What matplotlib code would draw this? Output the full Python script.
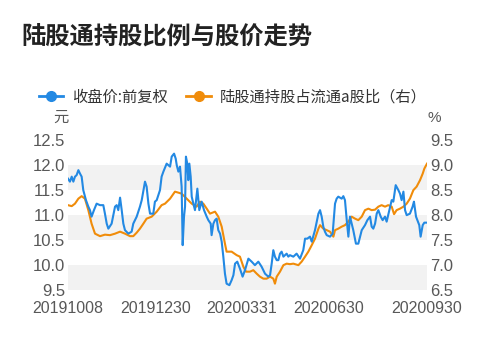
import matplotlib
matplotlib.use("Agg")
import matplotlib.pyplot as plt
from matplotlib.lines import Line2D

plt.rcParams['font.family'] = ['Noto Sans CJK SC', 'DejaVu Sans']

title = "陆股通持股比例与股价走势"
price_label = "收盘价:前复权"
ratio_label = "陆股通持股占流通a股比（右）"

tick_pos = [0, 59, 117, 176, 242]
tick_labels = ["20191008", "20191230", "20200331", "20200630", "20200930"]

# closing price (yuan), x = trading-day position
price_x = [0, 1.3, 2.5, 3.6, 4.7, 5.8, 7.0, 8.1, 9.2, 10.3, 12.1, 13.7, 14.8, 15.9,
           17.5, 19.3, 21.6, 23.8, 24.9, 26.1, 27.2, 29.4, 31.7, 32.8, 33.9, 35.1,
           36.2, 37.3, 38.4, 40.7, 42.9, 44.0, 46.3, 48.5, 49.7, 51.9, 53.0, 54.2,
           55.3, 57.5, 58.6, 59.8, 62.0, 63.1, 64.3, 66.5, 68.8, 69.9, 71.5, 72.6,
           73.3, 74.4, 75.5, 76.6, 77.3, 78.2, 78.9, 79.5, 80.4, 81.1, 81.8, 82.7,
           83.4, 84.5, 85.6, 87.2, 88.5, 90.1, 91.7, 93.5, 94.6, 96.2, 96.8, 98.0,
           99.1, 100.2, 101.3, 102.5, 103.6, 104.7, 105.8, 106.9, 108.8, 110.3,
           111.5, 112.6, 114.1, 115.9, 117.7, 119.3, 121.6, 123.8, 126.0, 128.3,
           130.5, 132.8, 135.0, 136.2, 137.3, 138.4, 139.5, 140.7, 141.8, 142.9,
           144.0, 145.2, 147.4, 148.5, 149.6, 151.9, 154.1, 156.4, 158.6, 159.8,
           161.3, 163.1, 164.3, 166.5, 168.8, 169.9, 171.0, 172.1, 173.2, 174.4,
           176.6, 178.4, 180.0, 181.1, 182.2, 184.5, 185.6, 186.7, 187.9, 189.0,
           190.1, 192.3, 194.1, 195.7, 198.0, 200.2, 201.8, 203.6, 204.7, 205.8,
           207.0, 208.1, 209.2, 210.8, 212.1, 213.7, 214.8, 216.6, 218.2, 219.3,
           220.9, 222.7, 223.8, 224.9, 226.1, 227.2, 228.3, 230.5, 232.3, 233.2,
           234.6, 235.5, 236.8, 237.7, 239.1, 240.2, 242]
price = [11.73, 11.67, 11.77, 11.67, 11.77, 11.80, 11.90, 11.83, 11.77, 11.50, 11.30,
         11.17, 11.10, 10.97, 11.10, 11.23, 11.20, 11.20, 11.03, 10.83, 10.73, 10.83,
         11.17, 11.20, 11.10, 11.35, 11.10, 10.83, 10.70, 10.63, 10.67, 10.83, 10.97,
         11.17, 11.30, 11.67, 11.57, 11.23, 11.03, 11.03, 11.27, 11.30, 11.50, 11.77,
         11.87, 12.03, 11.97, 12.17, 12.23, 12.13, 12.00, 11.87, 11.97, 11.57, 10.40,
         10.97, 11.17, 12.17, 12.03, 11.70, 12.03, 11.77, 11.37, 11.23, 11.10, 11.53,
         11.10, 11.27, 11.10, 10.97, 10.90, 10.83, 10.60, 10.83, 10.90, 10.93, 10.70,
         10.63, 10.47, 10.17, 9.83, 9.63, 9.60, 9.70, 9.80, 10.03, 10.07, 9.93, 9.77,
         9.90, 10.13, 10.07, 10.00, 10.07, 9.97, 9.83, 9.77, 9.80, 10.03, 10.30,
         10.17, 10.10, 10.10, 10.23, 10.27, 10.17, 10.23, 10.17, 10.20, 10.17, 10.23,
         10.13, 10.30, 10.53, 10.53, 10.57, 10.47, 10.70, 11.03, 11.10, 10.97, 10.77,
         10.67, 10.60, 10.57, 10.63, 11.23, 11.33, 11.37, 11.33, 11.38, 11.30, 10.90,
         10.57, 10.97, 10.70, 10.43, 10.43, 10.70, 10.80, 10.90, 10.97, 10.77, 10.73,
         10.83, 11.03, 11.10, 10.97, 10.90, 10.97, 10.87, 11.10, 11.30, 11.27, 11.60,
         11.50, 11.43, 11.30, 11.47, 11.10, 11.00, 11.03, 11.17, 11.27, 10.97, 10.90,
         10.80, 10.57, 10.80, 10.85, 10.85]

# northbound holding ratio (%), right axis
ratio_x = [0, 2.5, 4.7, 7.0, 9.2, 11.4, 13.7, 15.9, 18.2, 21.6, 24.9, 28.3, 31.7,
           35.1, 38.4, 41.8, 44.0, 46.3, 48.5, 50.8, 53.0, 56.4, 59.8, 63.1, 65.4,
           68.8, 72.1, 74.4, 76.6, 80.0, 83.4, 86.7, 89.0, 91.2, 93.5, 95.7, 99.1,
           101.3, 103.6, 105.8, 106.9, 110.3, 113.7, 115.9, 118.2, 120.0, 122.7,
           124.9, 127.2, 129.4, 131.7, 133.9, 136.2, 138.4, 139.5, 140.7, 142.9,
           145.2, 147.4, 149.6, 151.9, 155.3, 157.5, 159.8, 162.0, 164.3, 166.5,
           168.8, 169.9, 172.1, 174.4, 176.6, 178.9, 180.0, 182.2, 184.5, 186.7,
           189.0, 191.2, 193.5, 195.7, 198.0, 200.2, 202.5, 204.7, 207.0, 209.2,
           211.4, 213.7, 215.9, 218.2, 219.8, 221.5, 223.8, 226.1, 228.3, 230.5,
           232.8, 235.0, 237.3, 239.1, 240.2, 242]
ratio = [8.20, 8.18, 8.23, 8.33, 8.38, 8.33, 8.10, 7.83, 7.63, 7.58, 7.61, 7.60, 7.63,
         7.67, 7.63, 7.58, 7.58, 7.65, 7.73, 7.83, 7.93, 7.97, 8.07, 8.20, 8.23, 8.33,
         8.47, 8.45, 8.43, 8.33, 8.23, 8.17, 8.27, 8.23, 8.13, 8.03, 8.07, 7.97, 7.77,
         7.43, 7.27, 7.27, 7.20, 7.17, 6.97, 6.87, 6.87, 6.90, 6.83, 6.77, 6.73, 6.73,
         6.77, 6.73, 6.63, 6.77, 6.87, 7.00, 7.03, 7.02, 7.03, 7.00, 7.07, 7.17, 7.27,
         7.40, 7.53, 7.73, 7.80, 7.73, 7.70, 7.67, 7.57, 7.70, 7.73, 7.77, 7.80, 7.87,
         7.97, 7.93, 7.90, 7.97, 8.10, 8.13, 8.10, 8.11, 8.17, 8.20, 8.17, 8.20, 8.17,
         8.02, 8.10, 8.13, 8.17, 8.23, 8.33, 8.50, 8.57, 8.70, 8.83, 8.93, 9.03]

left_ticks = [9.5, 10.0, 10.5, 11.0, 11.5, 12.0, 12.5]
right_ticks = [6.5, 7.0, 7.5, 8.0, 8.5, 9.0, 9.5]

blue = "#2389e3"
orange = "#f08c0a"
grey = "#585858"

fig = plt.figure(figsize=(5, 3.53), dpi=100)
ax2 = fig.add_axes([0.136, 0.178, 0.718, 0.425])
ax = ax2.twinx()
ax.yaxis.tick_left()
ax2.yaxis.tick_right()

# alternating background bands (drawn on the bottom axes)
for lo in right_ticks[0:6:2]:
    ax2.axhspan(lo, lo + 0.5, color="#f2f2f2", lw=0, zorder=0)

ax2.plot(ratio_x, ratio, color=orange, lw=1.5, zorder=2)
ax.plot(price_x, price, color=blue, lw=1.5, zorder=3)

ax2.set_xlim(0, 242)
ax.set_ylim(9.5, 12.5)
ax2.set_ylim(6.5, 9.5)
ax.set_yticks(left_ticks)
ax.set_yticklabels([f"{v:.1f}" for v in left_ticks])
ax2.set_yticks(right_ticks)
ax2.set_yticklabels([f"{v:.1f}" for v in right_ticks])
ax2.set_xticks(tick_pos)
ax2.set_xticklabels(tick_labels)

for a in (ax, ax2):
    for s in a.spines.values():
        s.set_visible(False)
    a.tick_params(axis="y", length=0, labelsize=12, colors=grey, pad=2)
    a.tick_params(axis="x", length=0, labelsize=11.5, colors=grey, pad=8)
    for lab in a.get_xticklabels() + a.get_yticklabels():
        lab.set_family(['Liberation Sans', 'DejaVu Sans'])
ax.patch.set_visible(False)

fig.text(0.042, 0.895, title, fontsize=17.5, fontweight="bold", color="#222222", va="center")
fig.text(0.122, 0.667, "元", fontsize=11, color=grey, va="center", ha="center")
fig.text(0.868, 0.667, "%", fontsize=11, color=grey, va="center", ha="center",
         family=['Liberation Sans', 'DejaVu Sans'])

handles = [Line2D([], [], color=blue, lw=2, marker="o", ms=7),
           Line2D([], [], color=orange, lw=2, marker="o", ms=7)]
fig.legend(handles, [price_label, ratio_label], loc="center left",
           bbox_to_anchor=(0.05, 0.725), ncol=2, frameon=False, fontsize=11,
           handlelength=1.6, handletextpad=0.6, columnspacing=1.2,
           labelcolor="#333333")

fig.savefig("out.png", dpi=100)
